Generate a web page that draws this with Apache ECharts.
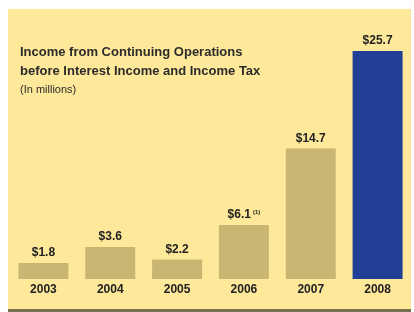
<!DOCTYPE html>
<html>
<head>
<meta charset="utf-8">
<script src="https://cdn.jsdelivr.net/npm/echarts@6/dist/echarts.min.js"></script>
<style>
  html, body { margin: 0; padding: 0; background: #fff; }
  #chart { width: 414px; height: 312px; }
</style>
</head>
<body>
<div id="chart"></div>
<script>
// data
var years = ['2003', '2004', '2005', '2006', '2007', '2008'];
var income = [1.8, 3.6, 2.2, 6.1, 14.7, 25.7];
var valueLabels = ['$1.8', '$3.6', '$2.2', '$6.1{sup|(1)}', '$14.7', '$25.7'];

var tan = '#cab673';
var navy = '#213f94';

var myChart = echarts.init(document.getElementById('chart'));
myChart.setOption({
  backgroundColor: '#ffffff',
  animation: false,
  graphic: [
    // yellow panel
    { type: 'rect', z: -10, shape: { x: 8, y: 9, width: 403, height: 301 }, style: { fill: '#fee89a' } },
    // dark bottom rule
    { type: 'rect', z: -10, shape: { x: 8, y: 309, width: 403, height: 3 }, style: { fill: '#77704e' } },
    {
      type: 'text', left: 20, top: 43,
      style: {
        text: 'Income from Continuing Operations\nbefore Interest Income and Income Tax',
        fill: '#2b2b2b',
        font: 'bold 13px "Liberation Sans", Arial, sans-serif',
        lineHeight: 19
      }
    },
    {
      type: 'text', left: 20, top: 84,
      style: {
        text: '(In millions)',
        fill: '#2b2b2b',
        font: '11px "Liberation Sans", Arial, sans-serif'
      }
    }
  ],
  grid: { left: 10, right: 3, top: 51, bottom: 33 },
  xAxis: {
    type: 'category',
    data: years,
    axisLine: { show: false },
    axisTick: { show: false },
    axisLabel: {
      color: '#222',
      fontFamily: '"Liberation Sans", Arial, sans-serif',
      fontWeight: 'bold',
      fontSize: 12,
      margin: 5
    }
  },
  yAxis: {
    type: 'value',
    min: 0,
    max: 25.7,
    show: false
  },
  series: [{
    type: 'bar',
    barWidth: 50,
    data: income.map(function (v, i) {
      return {
        value: v,
        itemStyle: { color: i === income.length - 1 ? navy : tan },
        label: { formatter: valueLabels[i] }
      };
    }),
    label: {
      show: true,
      position: 'top',
      distance: 4,
      color: '#222',
      fontFamily: '"Liberation Sans", Arial, sans-serif',
      fontWeight: 'bold',
      fontSize: 12,
      rich: {
        sup: { fontSize: 6, verticalAlign: 'top', padding: [0, 0, 5, 2], color: '#222' }
      }
    }
  }]
});
</script>
</body>
</html>
